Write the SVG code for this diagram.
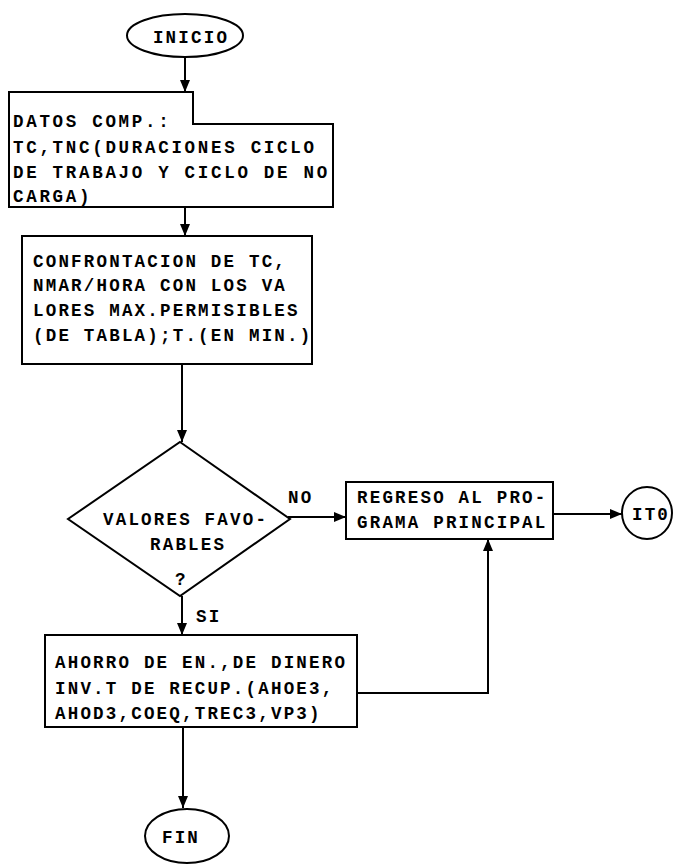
<svg xmlns="http://www.w3.org/2000/svg" width="673" height="865" viewBox="0 0 673 865">
<style>
  .shape{fill:#fff;stroke:#000;stroke-width:2}
  .line{fill:none;stroke:#000;stroke-width:2}
  text{font-family:"Liberation Mono","DejaVu Sans Mono",monospace;font-weight:bold;font-size:17.5px;letter-spacing:2.2px;fill:#000}
  .wide{letter-spacing:2.7px}
  .mid{text-anchor:middle}
</style>
<defs>
  <marker id="arr" viewBox="0 0 12 10" refX="12" refY="5" markerWidth="12" markerHeight="10" markerUnits="userSpaceOnUse" orient="auto">
    <path d="M0,0 L12,5 L0,10 Z" fill="#000"/>
  </marker>
</defs>
<rect width="673" height="865" fill="#fff"/>
<g id="connectors">
  <line class="line" x1="185" y1="57" x2="185" y2="92" marker-end="url(#arr)"/>
  <line class="line" x1="185" y1="207" x2="185" y2="236" marker-end="url(#arr)"/>
  <line class="line" x1="182" y1="364" x2="182" y2="442" marker-end="url(#arr)"/>
  <line class="line" x1="288" y1="517" x2="346" y2="517" marker-end="url(#arr)"/>
  <line class="line" x1="553" y1="514" x2="622" y2="514" marker-end="url(#arr)"/>
  <line class="line" x1="182" y1="596" x2="182" y2="635" marker-end="url(#arr)"/>
  <line class="line" x1="183" y1="727" x2="183" y2="808" marker-end="url(#arr)"/>
  <polyline class="line" points="357,693 488,693 488,539" marker-end="url(#arr)"/>
  <text x="288" y="503">NO</text>
  <text x="196" y="622">SI</text>
</g>
<g id="inicio">
  <ellipse class="shape" cx="185" cy="35.5" rx="58" ry="21.5"/>
  <text class="mid" x="191" y="43">INICIO</text>
</g>
<g id="datos">
  <path class="shape" d="M9,92 H193 V124 H333 V207 H9 Z"/>
  <text class="wide" x="13" y="127">DATOS COMP.:</text>
  <text class="wide" x="13" y="153">TC,TNC(DURACIONES CICLO</text>
  <text class="wide" x="13" y="178">DE TRABAJO Y CICLO DE NO</text>
  <text class="wide" x="13" y="202">CARGA)</text>
</g>
<g id="confrontacion">
  <rect class="shape" x="22" y="236" width="290" height="128"/>
  <text x="33" y="267">CONFRONTACION DE TC,</text>
  <text x="33" y="291">NMAR/HORA CON LOS VA</text>
  <text x="33" y="316">LORES MAX.PERMISIBLES</text>
  <text x="33" y="341">(DE TABLA);T.(EN MIN.)</text>
</g>
<g id="decision">
  <path class="shape" d="M180,442 L290,519 L180,596 L68,519 Z"/>
  <text x="103" y="525">VALORES FAVO-</text>
  <text x="150" y="550">RABLES</text>
  <text x="175" y="585">?</text>
</g>
<g id="regreso">
  <rect class="shape" x="346" y="482" width="207" height="57"/>
  <text x="357" y="503">REGRESO AL PRO-</text>
  <text x="357" y="528">GRAMA PRINCIPAL</text>
</g>
<g id="ito">
  <ellipse class="shape" cx="647" cy="513" rx="25" ry="26"/>
  <text class="mid" x="651" y="520">IT0</text>
</g>
<g id="ahorro">
  <rect class="shape" x="45" y="635" width="312" height="92"/>
  <text x="55" y="668">AHORRO DE EN.,DE DINERO</text>
  <text x="55" y="694">INV.T DE RECUP.(AHOE3,</text>
  <text x="55" y="719">AHOD3,COEQ,TREC3,VP3)</text>
</g>
<g id="fin">
  <ellipse class="shape" cx="187" cy="836" rx="42" ry="27"/>
  <text class="mid" x="181" y="843">FIN</text>
</g>
</svg>
